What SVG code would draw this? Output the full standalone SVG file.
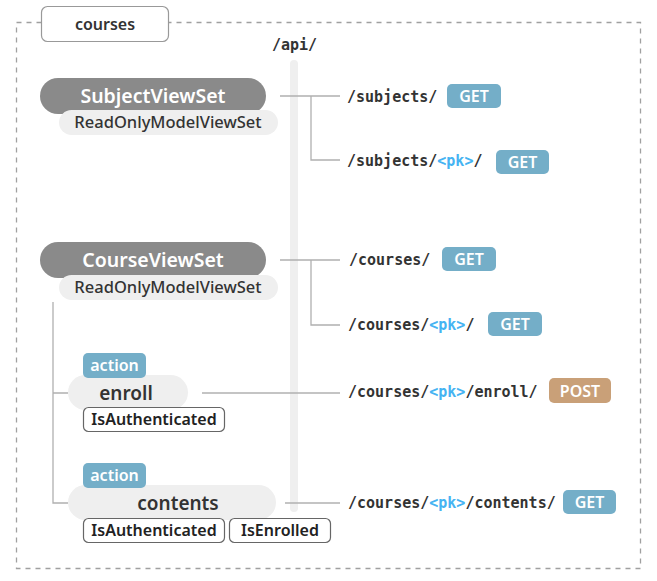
<svg xmlns="http://www.w3.org/2000/svg" width="657" height="581" viewBox="0 0 657 581">
<style>
.frame{fill:none;stroke:#a0a0a0;stroke-width:1.3;stroke-dasharray:5 5}
.vs{fill:#8a8a8a}
.vst{font-family:"Noto Sans","Open Sans",sans-serif;font-weight:600;font-size:19.5px;fill:#ffffff;text-anchor:middle}
.base{fill:#efefef}
.baset{font-family:"Noto Sans","Open Sans",sans-serif;font-weight:500;font-size:16.5px;fill:#333;text-anchor:middle}
.act{fill:#efefef}
.actt{font-family:"Noto Sans","Open Sans",sans-serif;font-weight:600;font-size:19px;fill:#333;text-anchor:middle}
.badge{fill:#74aec8}
.post{fill:#c9a078}
.badget{font-family:"Noto Sans","Open Sans",sans-serif;font-weight:600;font-size:16px;fill:#fff;text-anchor:middle}
.perm{fill:#fff;stroke:#666;stroke-width:1.2}
.permt{font-family:"Noto Sans","Open Sans",sans-serif;font-weight:600;font-size:16px;fill:#222;text-anchor:middle}
.url{font-family:"DejaVu Sans Mono","Liberation Mono",monospace;font-weight:700;font-size:15px;fill:#333}
.pk{fill:#45b3f2}
.conn{fill:none;stroke:#b0b0b0;stroke-width:1.3}
</style>
<rect class="frame" x="16.5" y="22.5" width="624" height="546"/>
<g id="app">
<rect x="41.5" y="6.5" width="127" height="35" rx="6" fill="#fff" stroke="#999" stroke-width="1.2"/>
<text x="105" y="29.5" class="baset" style="font-size:16px;font-weight:600">courses</text>
</g>
<g id="api">
<text x="272" y="50" class="url">/api/</text>
<line x1="294" y1="64" x2="294" y2="508" stroke="#efefef" stroke-width="8" stroke-linecap="round"/>
</g>
<g id="connectors">
<path class="conn" d="M280 96H340M311 96V160H340"/>
<path class="conn" d="M280 260H340M311 260V325H340"/>
<path class="conn" d="M53 302V503H68M53 393H68"/>
<path class="conn" d="M202 393H340"/>
<path class="conn" d="M285 503H340"/>
</g>
<g id="subjectviewset">
<rect class="vs" x="40" y="78" width="226" height="36" rx="18"/>
<text x="153" y="103" class="vst">SubjectViewSet</text>
<rect class="base" x="59" y="110" width="219" height="25" rx="12.5"/>
<text x="168" y="128" class="baset">ReadOnlyModelViewSet</text>
</g>
<g id="courseviewset">
<rect class="vs" x="40" y="242" width="226" height="36" rx="18"/>
<text x="153" y="267" class="vst">CourseViewSet</text>
<rect class="base" x="59" y="275" width="219" height="25" rx="12.5"/>
<text x="168" y="293" class="baset">ReadOnlyModelViewSet</text>
</g>
<g id="enroll">
<rect class="act" x="68" y="375" width="120" height="35" rx="17.5"/>
<rect class="badge" x="83" y="353" width="63" height="25" rx="5"/>
<text x="114.5" y="371" class="badget">action</text>
<text x="126" y="400" class="actt">enroll</text>
<rect class="perm" x="83.5" y="407.5" width="141" height="24" rx="5"/>
<text x="154" y="425" class="permt">IsAuthenticated</text>
</g>
<g id="contents">
<rect class="act" x="68" y="485" width="208" height="35" rx="17.5"/>
<rect class="badge" x="83" y="463" width="63" height="25" rx="5"/>
<text x="114.5" y="481" class="badget">action</text>
<text x="178" y="510" class="actt">contents</text>
<rect class="perm" x="83.5" y="518.5" width="141" height="24" rx="5"/>
<text x="154" y="536" class="permt">IsAuthenticated</text>
<rect class="perm" x="229.5" y="518.5" width="101" height="24" rx="5"/>
<text x="280" y="536" class="permt">IsEnrolled</text>
</g>
<g id="ep-subjects">
<text x="347" y="102" class="url">/subjects/</text>
<rect class="badge" x="447" y="84" width="54" height="24" rx="5"/>
<text x="474" y="101.5" class="badget">GET</text>
</g>
<g id="ep-subject-detail">
<text x="347" y="166" class="url">/subjects/<tspan class="pk">&lt;pk&gt;</tspan>/</text>
<rect class="badge" x="496" y="150" width="53" height="24" rx="5"/>
<text x="522.5" y="167.5" class="badget">GET</text>
</g>
<g id="ep-courses">
<text x="349" y="265" class="url">/courses/</text>
<rect class="badge" x="442" y="247" width="54" height="24" rx="5"/>
<text x="469" y="264.5" class="badget">GET</text>
</g>
<g id="ep-course-detail">
<text x="348" y="330" class="url">/courses/<tspan class="pk">&lt;pk&gt;</tspan>/</text>
<rect class="badge" x="488" y="312" width="54" height="24" rx="5"/>
<text x="515" y="329.5" class="badget">GET</text>
</g>
<g id="ep-enroll">
<text x="348" y="397" class="url">/courses/<tspan class="pk">&lt;pk&gt;</tspan>/enroll/</text>
<rect class="post" x="549" y="378" width="62" height="25" rx="5"/>
<text x="580" y="396.5" class="badget">POST</text>
</g>
<g id="ep-contents">
<text x="348" y="508" class="url">/courses/<tspan class="pk">&lt;pk&gt;</tspan>/contents/</text>
<rect class="badge" x="563" y="490" width="53" height="24" rx="5"/>
<text x="589.5" y="507.5" class="badget">GET</text>
</g>
</svg>
